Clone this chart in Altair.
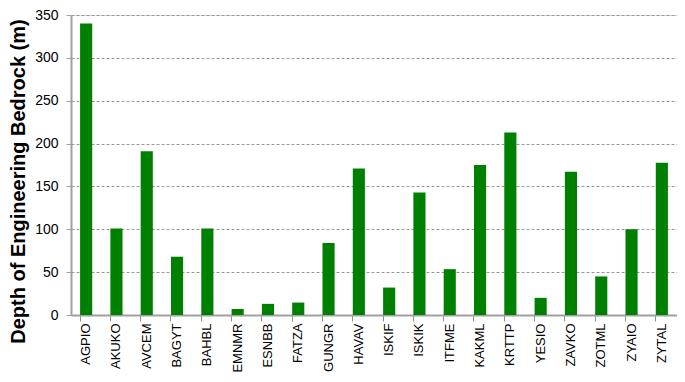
import altair as alt
import pandas as pd

stations = ["AGPIO", "AKUKO", "AVCEM", "BAGYT", "BAHBL", "EMNMR", "ESNBB", "FATZA",
            "GUNGR", "HAVAV", "ISKIF", "ISKIK", "ITFME", "KAKML", "KRTTP", "YESIO",
            "ZAVKO", "ZOTML", "ZYAIO", "ZYTAL"]
depths = [340, 101, 191, 68, 101, 7, 13, 14.5, 84, 171, 32, 143, 53.5, 175, 213, 20,
          167, 45, 100, 177.5]
y_ticks = [0, 50, 100, 150, 200, 250, 300, 350]

df = pd.DataFrame({"station": stations, "depth": depths})

chart = alt.Chart(df).mark_bar(color="#008000").encode(
    x=alt.X("station:N", sort=stations, title=None,
            scale=alt.Scale(paddingInner=0.6, paddingOuter=0.3),
            axis=alt.Axis(labelAngle=-90, labelAlign="right", labelBaseline="middle",
                          labelFontSize=13, labelPadding=2, bandPosition=0, ticks=True,
                          tickSize=6, tickWidth=1, tickColor="#909090", domainColor="#a0a0a0",
                          domainWidth=2, labelColor="#000000")),
    y=alt.Y("depth:Q", title="Depth of Engineering Bedrock (m)",
            scale=alt.Scale(domain=[0, 350], nice=False),
            axis=alt.Axis(values=y_ticks, labelFontSize=14, labelPadding=8, tickSize=5,
                          tickColor="#a0a0a0", domainColor="#a0a0a0", domainWidth=2,
                          labelColor="#000000", gridColor="#999999", gridDash=[3, 2],
                          gridWidth=1, titleFontSize=20, titleFontWeight="bold",
                          titleColor="#000000", titleAngle=-90, titleX=-53, titleY=166,
                          titleAlign="center", titleBaseline="middle")),
).properties(
    width=606,
    height=300,
    padding={"left": 63, "top": 7, "right": 0, "bottom": 59},
    autosize=alt.AutoSizeParams(type="none"),
).configure_view(
    stroke="#303030", strokeWidth=1.5
).configure(
    font="Liberation Sans"
)

chart.save("out.html", embed_options={"renderer": "svg", "actions": False})
